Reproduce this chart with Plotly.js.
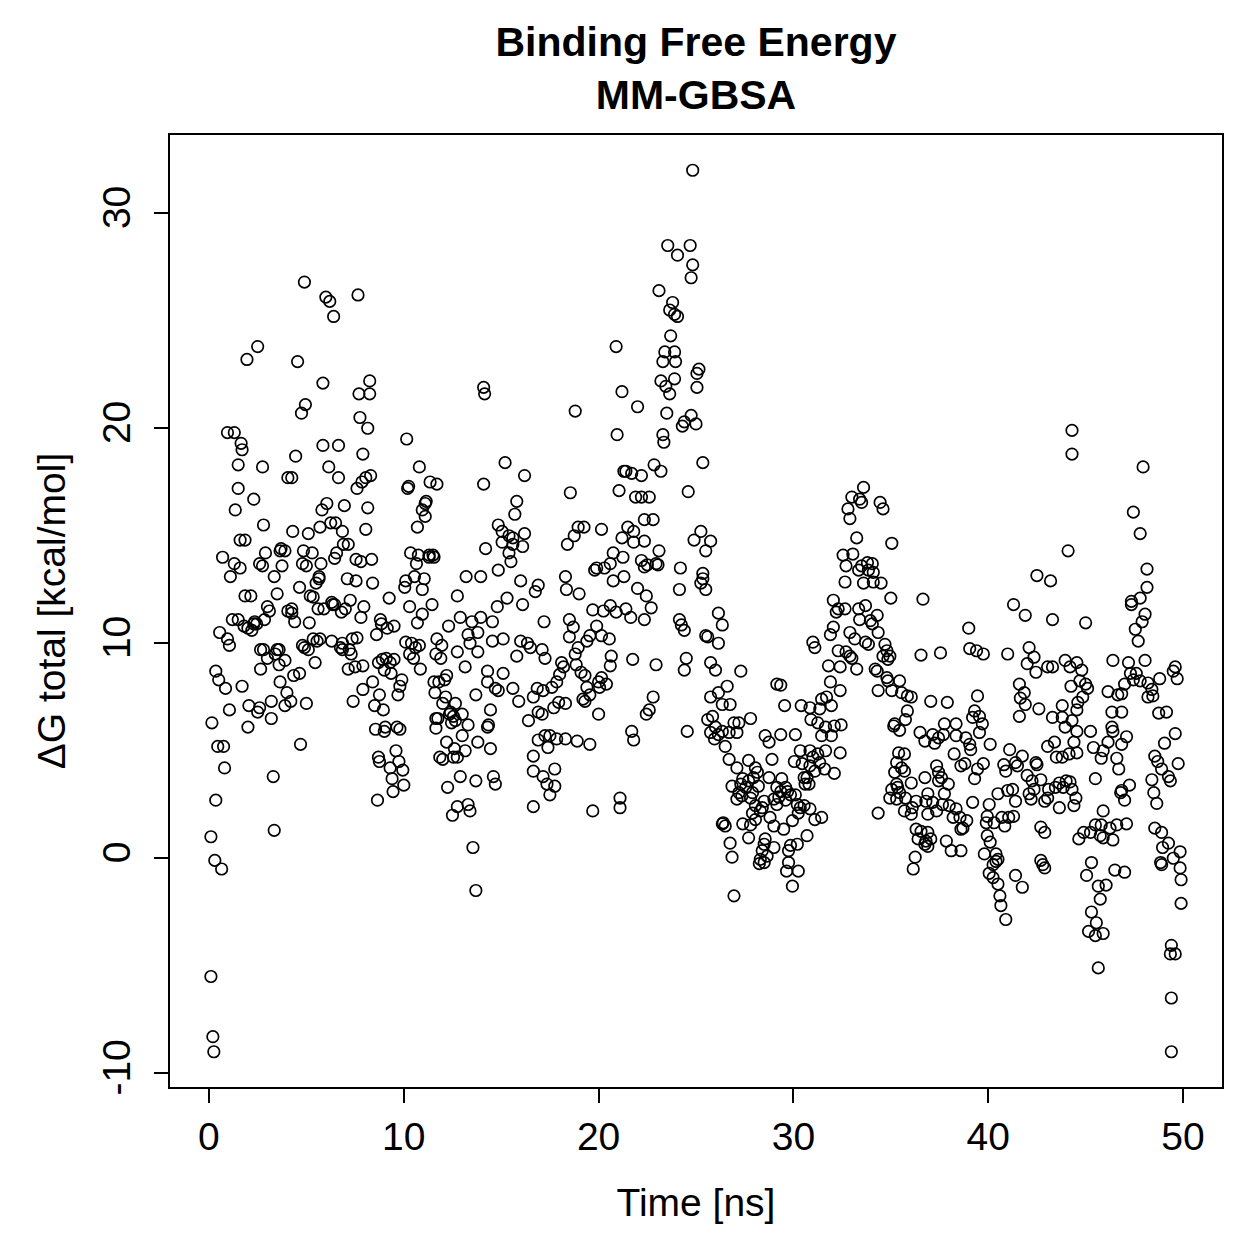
<!DOCTYPE html>
<html>
<head>
<meta charset="utf-8">
<script src="https://cdn.plot.ly/plotly-3.0.1.min.js"></script>
<style>
  html, body { margin: 0; padding: 0; background: #fff; }
  #chart { width: 1259px; height: 1259px; }
</style>
</head>
<body>
<div id="chart"></div>
<script>
// MM-GBSA binding free energy per frame: [time (ns), ΔG total (kcal/mol)]
const pts_00_13 = [
  [0.1,-5.5],[0.2,-8.3],[0.25,-9.0],[0.1,1.0],[0.3,-0.1],[0.65,-0.5],[0.35,2.7],[0.15,6.3],[0.35,8.7],[0.5,8.3],
  [0.45,5.2],[0.75,5.2],[0.8,4.2],[0.85,7.9],[0.55,10.5],[0.7,14.0],[0.95,10.2],[1.05,9.9],[0.95,19.8],[1.05,6.9],
  [1.1,13.1],[1.2,11.1],[1.3,13.7],[1.35,16.2],[1.3,19.8],[1.5,17.2],[1.5,18.3],[1.65,19.3],[1.7,19.0],[1.6,14.8],
  [1.5,11.1],[1.7,8.0],[1.85,14.8],[1.85,12.2],[1.95,23.2],[2.05,7.1],[2.0,6.1],[2.15,12.2],[2.2,10.6],[2.3,10.9],
  [2.3,16.7],[2.35,11.0],[1.6,13.5],[1.8,10.8],[2.0,10.7],
  [2.5,23.8],[2.5,6.8],[2.45,10.9],[2.6,7.0],[2.65,9.7],[2.75,18.2],[2.75,13.6],[2.8,9.7],[2.9,14.2],[2.8,15.5],
  [2.85,11.1],[3.0,11.7],[3.1,11.5],[3.2,7.3],[3.2,6.5],[3.3,3.8],[3.35,1.3],[3.4,9.5],[3.5,12.3],[3.5,9.7],
  [3.6,9.7],[3.6,9.0],[3.65,14.3],[3.7,14.4],[3.75,13.6],[3.9,14.3],[3.9,9.2],[3.9,7.1],[2.6,13.7],[3.0,9.3],
  [3.35,13.1],[2.65,8.8],[3.65,8.2],
  [4.05,11.5],[4.05,17.7],[4.25,17.7],[4.25,11.4],[4.3,15.2],[4.2,7.3],[4.25,11.6],[4.4,11.0],[4.35,8.5],[4.45,18.7],
  [4.55,23.1],[4.65,12.6],[4.65,8.6],[4.7,5.3],[4.75,20.7],[4.8,13.7],[4.85,14.3],[4.9,26.8],[4.9,9.8],[4.95,21.1],
  [5.0,7.2],[5.0,13.6],[5.1,9.7],[5.1,15.1],[5.2,12.2],[5.3,14.2],[5.35,10.2],[5.45,9.1],[5.5,12.8],[5.65,13.1],
  [5.65,13.0],[5.6,11.6],[5.7,10.2],[5.7,15.4],[5.75,13.7],[5.8,16.2],[5.85,19.2],[5.85,22.1],[5.9,11.6],[6.0,26.1],
  [5.35,12.15],[6.3,11.9],[6.8,11.45],[5.15,10.95],[7.8,11.2],[4.8,9.9],[5.55,10.1],[6.85,10.0],[7.6,10.25],[7.15,8.8],
  [7.9,8.95],[4.0,7.7],[7.9,7.85],[8.75,7.6],[7.55,12.9],[6.45,13.95],[7.55,13.9],
  [6.05,16.5],[6.15,18.2],[6.2,25.9],[6.25,15.6],[6.3,10.1],[6.35,11.8],[6.4,25.2],[6.45,11.8],[6.5,15.6],[6.55,14.2],
  [6.65,19.2],[6.65,17.7],[6.75,9.8],[6.85,9.7],[6.85,15.2],[6.9,14.6],[6.95,16.4],[7.0,11.6],[7.1,13.0],[7.15,14.6],
  [7.2,9.7],[7.3,9.5],[7.25,12.0],[7.35,10.2],[7.4,7.3],[7.5,8.9],[7.6,17.2],[7.65,26.2],[7.7,21.6],[7.75,20.5],
  [7.8,13.8],[7.85,17.5],[7.9,18.8],[7.95,11.7],
  [8.05,15.3],[8.05,17.7],[8.15,16.3],[8.15,20.0],[8.25,22.2],[8.3,17.8],[8.25,21.6],[8.35,13.9],[8.4,12.8],[8.4,8.2],
  [8.5,7.1],[8.55,6.0],[8.6,10.4],[8.65,2.7],[8.7,9.1],[8.7,4.7],[8.75,4.5],[8.8,11.1],[8.85,10.9],[8.95,6.9],
  [9.0,5.9],[9.05,6.1],[9.1,9.3],[9.15,10.7],[9.25,12.1],[9.3,9.1],[9.4,3.7],[9.45,3.1],[9.5,10.8],[9.6,5.0],
  [9.65,6.1],[9.7,7.6],[9.75,4.5],[9.8,8.0],[9.8,6.0],[9.95,4.1],[10.0,3.4],[9.9,8.3],
  [8.9,9.25],[9.0,8.75],[9.35,8.6],[9.5,9.25],[9.3,4.2],
  [10.05,12.6],[10.1,12.9],[10.15,19.5],[10.2,17.2],[10.25,17.3],[10.3,9.5],[10.35,14.2],[10.4,10.0],[10.5,9.3],[10.55,13.1],
  [10.6,9.8],[10.65,13.7],[10.7,15.4],[10.75,14.1],[10.8,18.2],[10.85,8.8],[10.95,16.2],[10.95,12.5],[11.05,13.0],[11.1,16.5],
  [11.15,16.6],[11.3,14.1],[11.3,14.0],[11.35,17.5],[11.45,11.8],[11.5,14.1],[11.55,14.0],[11.55,8.2],[11.6,7.7],[11.65,6.5],
  [11.7,10.2],[11.75,6.5],[11.7,17.4],[11.8,8.2],[11.9,9.3],[11.85,4.7],[11.95,9.9],[12.0,4.6],[12.1,8.3],[12.15,7.5],
  [12.2,5.4],[12.25,3.3],[12.3,10.8],[12.35,6.7],[12.4,6.8],[12.45,6.3],[12.5,2.0],[12.55,6.6],[12.6,5.1],
  [11.1,15.9],[10.3,11.7],[10.95,11.35],[10.7,10.95],[10.1,10.05],[10.8,9.9],[11.65,9.5],[12.2,8.5],[12.0,7.2],[11.65,6.05],
  [12.55,4.7]
];

const pts_13_17 = [
  [14.1,21.9],[14.15,21.6],[15.2,18.4],[16.2,17.8],[14.1,17.4],[15.8,16.6],[15.7,16.0],[14.85,15.5],[15.05,15.2],[15.4,15.0],
  [15.6,14.9],[16.2,15.1],[15.05,14.7],[15.6,14.6],[16.1,14.5],[15.4,14.2],[15.5,13.8],[14.2,14.4],[14.85,13.4],[16.0,12.9],
  [13.2,13.1],[13.95,13.1],[16.9,12.7],[16.75,12.4],[12.75,12.2],[15.3,12.1],[14.8,11.7],[16.1,11.8],[17.2,11.0],[12.9,11.2],
  [13.5,11.0],[13.95,11.2],[14.55,11.0],[13.3,10.4],[13.8,10.5],[13.4,10.0],[13.8,9.6],[14.55,10.1],[15.1,10.2],[16.0,10.1],
  [16.35,10.0],[16.5,9.8],[15.8,9.4],[17.1,9.7],[17.25,9.3],[12.75,9.6],[13.15,8.9],[14.3,8.7],[14.3,8.2],[15.1,8.6],
  [14.7,7.9],[14.85,7.8],[15.6,7.9],[15.9,7.3],[13.7,7.6],[16.85,7.9],[17.15,7.8],[16.65,7.5],[12.65,7.2],[13.0,6.7],
  [14.45,6.9],[16.4,6.4],[16.9,6.8],[17.1,6.7],[12.65,6.4],[13.3,6.2],[13.0,5.7],[14.35,6.2],[14.3,6.1],[16.9,5.5],
  [17.25,5.7],[13.8,5.4],[14.45,5.1],[13.15,5.0],[12.75,4.7],[16.65,4.75],[16.65,4.05],[12.9,3.8],[13.7,3.6],[14.6,3.8],
  [14.7,3.45],[17.15,3.8],[17.35,3.45],[12.75,2.4],[13.3,2.5],[13.4,2.2],[16.65,2.4],[13.55,0.5],[13.7,-1.5]
];

const pts_17_22 = [
  [20.9,23.8],[21.2,21.7],[18.8,20.8],[20.95,19.7],[21.4,18.0],[21.3,18.0],[18.55,17.0],[21.05,17.1],[21.9,16.8],[18.95,15.4],
  [19.25,15.4],[18.75,15.0],[18.4,14.6],[20.15,15.3],[21.5,15.4],[21.8,15.2],[21.2,14.9],[21.8,14.7],[20.75,14.2],[21.25,14.0],
  [20.6,13.7],[19.9,13.5],[19.8,13.4],[20.3,13.5],[18.3,13.1],[18.35,12.5],[19.0,12.3],[20.75,12.9],[21.3,13.1],[19.7,11.55],
  [20.25,11.5],[20.6,11.75],[20.9,11.45],[21.4,11.6],[21.65,11.2],[18.5,11.1],[18.7,10.75],[18.5,10.3],[19.9,10.8],[19.55,10.35],
  [19.4,10.1],[20.15,10.35],[20.55,10.2],[18.95,9.8],[18.8,9.5],[20.65,9.4],[20.6,8.95],[21.75,9.25],[18.1,9.1],[18.2,8.9],
  [18.0,8.55],[18.85,9.0],[19.1,8.65],[19.3,8.5],[17.85,8.2],[17.6,7.95],[20.15,8.4],[20.4,8.1],[20.0,8.2],[20.05,7.95],
  [19.4,7.95],[19.55,7.6],[19.2,7.4],[19.3,7.3],[17.95,7.25],[18.3,7.2],[17.7,7.0],[20.0,6.7],[21.7,5.9],[21.8,5.5],
  [17.5,5.7],[17.85,5.55],[18.3,5.55],[18.9,5.45],[19.55,5.3],[17.4,5.15],[17.75,4.15],[17.75,3.35],[17.5,2.95],[19.7,2.2],
  [21.1,2.8],[21.1,2.35]
];

const pts_22_26 = [
  [24.83,32.0],[23.55,28.5],[24.05,28.05],[24.7,28.5],[24.83,27.6],[24.75,27.0],[23.1,26.4],[23.8,25.85],[23.65,25.5],[23.9,25.3],
  [24.05,25.2],[23.7,24.3],[23.4,23.55],[23.9,23.55],[23.3,23.1],[23.95,23.1],[25.15,22.75],[25.05,22.55],[25.05,21.9],[23.2,22.2],
  [23.45,21.95],[23.65,21.6],[23.9,22.3],[22.0,21.0],[23.5,20.7],[24.4,20.3],[24.75,20.6],[25.0,20.2],[24.3,20.1],[23.3,19.7],
  [23.35,19.35],[25.35,18.4],[22.85,18.3],[23.2,18.0],[22.2,17.8],[21.7,17.9],[24.6,17.05],[22.2,16.8],[22.6,16.8],[22.35,15.75],
  [22.8,15.75],[22.35,14.75],[25.25,15.2],[24.9,14.8],[25.75,14.75],[25.5,14.3],[23.1,14.3],[22.2,13.85],[22.5,13.65],[22.95,13.7],
  [23.05,13.65],[22.35,13.55],[24.2,13.5],[25.35,13.25],[25.35,13.0],[25.25,12.8],[22.0,12.55],[22.45,12.2],[22.7,11.65],[22.35,11.1],
  [24.15,12.5],[25.5,12.5],[26.15,11.4],[26.35,10.85],[24.15,11.1],[24.25,10.85],[24.4,10.6],[25.5,10.35],[25.6,10.3],[26.15,10.0],
  [22.95,9.0],[24.5,9.3],[24.4,8.75],[25.75,9.1],[26.0,8.75],[22.8,7.5],[22.6,6.9],[22.45,6.7],[25.75,7.5],[26.15,7.7],
  [26.35,7.15],[25.6,6.45],[25.85,6.6],[26.0,6.1],[25.75,5.85],[26.15,5.75],[25.95,5.55],[24.55,5.9]
];

const pts_26_31 = [
  [27.3,8.7],[29.15,8.1],[29.35,8.05],[26.6,8.0],[26.75,7.15],[29.55,7.1],[30.4,7.1],[27.8,6.5],[26.95,6.3],[27.2,6.3],
  [26.7,5.85],[27.1,5.85],[26.35,5.9],[28.55,5.7],[28.75,5.4],[29.35,5.75],[30.1,5.75],[26.5,5.2],[30.35,5.0],[26.7,4.6],
  [27.7,4.55],[28.9,4.6],[30.05,4.5],[30.45,4.4],[27.1,4.2],[28.05,4.2],[28.15,4.0],[27.95,3.75],[28.75,3.75],[27.4,3.7],
  [27.7,3.6],[27.3,3.45],[27.55,3.3],[30.55,3.75],[30.6,3.45],[26.85,3.35],[28.2,3.35],[29.4,3.7],[29.6,3.3],[29.15,3.3],
  [29.35,3.1],[29.7,3.1],[29.85,2.95],[27.2,3.05],[27.35,2.9],[27.9,3.05],[27.8,2.8],[27.1,2.75],[29.25,2.85],[29.0,2.75],
  [29.15,2.5],[29.6,2.7],[30.1,2.95],[30.2,2.5],[30.35,2.35],[30.55,2.45],[30.25,2.1],[28.5,2.65],[28.4,2.35],[28.05,2.45],
  [28.3,2.2],[27.9,2.1],[28.05,1.8],[27.8,1.55],[26.4,1.65],[26.5,1.5],[26.35,1.6],[27.4,1.6],[28.8,1.9],[29.0,1.5],
  [29.5,1.35],[29.95,1.75],[30.7,1.05],[27.7,0.95],[28.55,0.9],[28.5,0.65],[26.75,0.7],[29.0,0.5],[28.4,0.35],[28.65,0.1],
  [28.3,-0.05],[28.5,-0.2],[28.25,-0.25],[29.85,0.6],[30.2,0.65],[29.75,0.35],[26.85,0.05],[29.75,-0.2],[29.65,-0.6],[30.25,-0.6],
  [29.95,-1.3],[26.95,-1.75]
];

const pts_31_35 = [
  [33.6,17.25],[33.0,16.8],[33.4,16.7],[33.5,16.55],[32.8,16.25],[32.9,15.8],[34.45,16.55],[34.6,16.25],[33.25,14.9],[35.05,14.65],
  [32.55,14.1],[33.05,14.15],[32.7,13.6],[33.5,13.6],[33.8,13.75],[34.05,13.7],[33.35,13.4],[33.85,13.4],[34.1,13.3],[32.65,12.85],
  [33.6,12.8],[34.1,12.85],[34.5,12.8],[35.0,12.1],[32.05,12.0],[32.3,11.6],[32.2,11.45],[32.65,11.6],[33.35,11.6],[33.7,11.75],
  [33.4,11.1],[33.95,11.05],[34.3,11.3],[34.05,10.9],[34.35,10.5],[32.05,10.75],[31.9,10.4],[32.9,10.5],[33.15,10.2],[33.7,10.05],
  [31.0,10.05],[31.1,9.8],[33.85,9.95],[34.7,9.95],[34.8,9.65],[34.95,9.4],[34.6,9.4],[34.85,9.25],[32.3,9.65],[32.7,9.6],
  [32.9,9.4],[33.0,9.3],[31.8,8.95],[32.4,8.9],[33.25,8.8],[34.2,8.8],[34.3,8.7],[34.8,8.4],[34.85,8.25],[31.9,8.2],
  [32.4,7.8],[34.35,7.8],[35.05,7.8],[31.45,7.4],[31.7,7.5],[31.35,6.95],[31.95,7.1],[30.85,7.0],[30.9,6.45],[31.25,6.3],
  [31.65,6.1],[32.1,6.15],[32.45,6.2],[31.45,5.7],[31.95,5.7],[35.15,6.15],[30.85,5.0],[31.25,4.85],[31.65,5.0],[31.0,4.7],
  [31.35,4.45],[31.6,4.15],[30.85,4.3],[31.1,4.05],[30.7,3.75],[30.8,3.45],[32.4,4.9],[32.1,3.95],[35.4,4.9],[35.3,4.45],
  [35.05,3.2],[34.95,2.8],[35.3,2.75],[34.35,2.1],[30.85,2.3],[31.1,1.8],[31.45,1.9]
];

const pts_35_40 = [
  [36.65,12.05],[39.0,10.7],[39.05,9.75],[39.4,9.65],[39.75,9.5],[36.55,9.45],[37.55,9.55],[35.45,8.25],[35.55,7.7],[35.85,7.55],
  [36.05,7.5],[39.45,7.55],[37.05,7.3],[37.9,7.25],[35.85,6.85],[35.75,6.45],[39.3,6.85],[39.2,6.55],[39.55,6.6],[39.7,6.25],
  [39.55,5.85],[35.2,6.25],[35.45,5.95],[37.75,6.25],[38.35,6.25],[36.5,5.85],[36.75,5.45],[37.15,5.75],[37.25,5.35],[37.7,5.75],
  [37.45,5.6],[38.35,5.7],[38.85,5.6],[39.05,5.3],[39.1,5.05],[35.7,4.85],[38.25,4.85],[39.75,4.4],[39.45,4.15],[39.3,3.7],
  [38.8,4.4],[38.6,4.3],[35.55,4.2],[35.7,4.05],[35.2,4.0],[35.3,3.45],[36.75,3.75],[37.35,4.3],[37.45,4.0],[37.6,3.75],
  [37.95,3.45],[37.45,3.6],[36.05,3.5],[35.35,3.3],[35.45,3.05],[35.75,2.8],[36.3,2.65],[36.1,2.35],[35.7,2.2],[36.05,2.05],
  [36.9,3.0],[36.8,2.65],[37.15,2.6],[37.75,3.0],[37.65,2.5],[39.2,2.6],[38.0,2.45],[38.35,2.3],[38.2,1.9],[38.55,1.9],
  [38.9,1.75],[38.6,1.35],[38.7,1.4],[36.9,2.05],[37.35,2.2],[39.9,1.65],[36.3,1.35],[36.55,1.25],[36.9,1.2],[36.4,0.9],
  [36.8,0.8],[37.05,0.9],[36.9,0.55],[36.75,0.65],[37.85,0.8],[38.1,0.35],[38.6,0.35],[36.25,0.05],[36.15,-0.5],[39.8,0.2]
];

const pts_40_44 = [
  [44.3,19.9],[44.3,18.8],[44.1,14.3],[42.5,13.15],[43.2,12.9],[41.3,11.8],[41.9,11.3],[43.3,11.1],[41.0,9.5],[42.1,9.8],
  [42.35,9.35],[42.0,9.05],[42.45,8.65],[43.05,8.9],[43.3,8.9],[43.95,9.2],[41.6,8.1],[41.85,7.7],[41.65,7.45],[41.9,7.15],
  [41.6,6.6],[42.6,6.95],[43.3,6.55],[43.8,7.1],[43.8,6.55],[44.25,8.0],[43.95,6.1],[40.1,5.3],[41.1,5.05],[41.75,4.75],
  [41.4,4.45],[40.8,4.35],[40.9,4.05],[41.5,4.3],[42.45,4.45],[42.5,4.35],[43.05,5.2],[43.4,5.4],[43.5,4.7],[43.8,4.7],
  [44.15,4.85],[42.0,3.85],[42.25,3.6],[42.7,3.65],[42.35,3.2],[43.65,3.5],[44.0,3.6],[43.85,3.3],[43.45,3.3],[43.1,3.2],
  [41.25,3.2],[41.4,2.65],[41.0,3.15],[40.5,3.0],[42.1,3.0],[42.2,2.75],[43.05,2.8],[43.65,2.35],[42.9,2.65],[44.5,2.8],
  [40.05,2.5],[39.95,1.95],[40.3,1.65],[40.7,1.9],[41.05,1.9],[40.85,1.5],[41.3,1.95],[42.7,1.45],[42.9,1.2],[44.65,0.9],
  [39.95,1.05],[40.1,0.75],[40.4,0.2],[40.5,-0.05],[40.4,-0.15],[40.25,-0.3],[40.05,-0.7],[40.25,-0.9],[42.7,-0.1],[42.8,-0.3],
  [42.9,-0.45],[41.4,-0.8],[41.75,-1.35],[40.5,-1.2],[40.6,-1.75],[40.65,-2.2],[40.9,-2.85]
];

const pts_44_50 = [
  [47.95,18.2],[47.45,16.1],[47.8,15.1],[48.15,13.45],[48.15,12.6],[47.8,12.1],[47.35,11.95],[47.35,11.8],[48.05,11.35],[47.9,11.0],
  [47.55,10.65],[47.7,10.1],[45.0,10.95],[46.4,9.2],[47.2,9.1],[47.3,8.6],[47.6,8.6],[47.45,8.3],[47.8,8.25],[48.2,8.15],
  [48.4,7.85],[48.45,7.55],[48.2,7.5],[48.05,9.2],[48.8,8.35],[47.0,8.1],[46.85,7.65],[46.65,7.6],[46.15,7.75],[46.35,6.8],
  [48.75,6.75],[46.85,6.8],[44.55,9.1],[44.8,8.75],[44.7,8.25],[45.0,8.1],[45.1,7.9],[44.85,7.5],[44.6,7.25],[44.55,6.9],
  [44.2,8.9],[44.3,6.4],[45.25,5.9],[46.35,6.1],[46.4,5.9],[46.15,5.4],[45.9,5.0],[45.8,4.65],[47.1,5.65],[46.85,5.3],
  [46.6,4.65],[46.7,4.15],[45.4,5.15],[44.55,5.9],[44.4,5.4],[44.55,4.9],[48.55,4.75],[48.7,4.5],[48.9,4.15],[48.4,3.65],
  [48.5,3.05],[48.65,2.55],[45.5,3.7],[44.2,3.55],[44.3,3.2],[44.4,2.45],[46.85,3.15],[47.0,2.7],[47.25,3.4],[46.8,3.05],
  [45.9,2.2],[48.55,1.4],[48.9,1.2],[46.6,1.55],[46.25,1.4],[45.8,1.55],[45.5,1.55],[45.25,1.2],[44.9,1.2],[45.75,1.05],
  [45.9,0.95],[46.4,0.85],[47.1,1.6],[48.9,-0.3],[45.3,-0.2],[45.05,-0.8],[46.5,-0.55],[47.0,-0.65],[46.05,-1.25],[45.65,-1.3],
  [45.75,-1.9],[45.3,-2.5],[45.55,-3.0],[45.15,-3.4],[45.5,-3.6],[45.9,-3.5],[45.65,-5.1],
  [49.6,8.9],[49.5,8.7],[49.7,8.35],[49.15,6.8],[49.6,5.8],[49.05,5.35],[49.75,4.4],[49.25,3.8],[49.35,3.6],[48.95,0.5],
  [49.25,0.7],[49.85,0.3],[48.85,-0.2],[49.5,0.0],[49.85,-0.45],[49.9,-1.0],[49.9,-2.1],[49.4,-4.05],[49.35,-4.45],[49.6,-4.45],
  [49.4,-6.5],[49.4,-9.0]
];

const xTicks = [0, 10, 20, 30, 40, 50];
const yTicks = [-10, 0, 10, 20, 30];

const frames = [].concat(pts_00_13, pts_13_17, pts_17_22, pts_22_26, pts_26_31,
                         pts_31_35, pts_35_40, pts_40_44, pts_44_50);
const timeNs = frames.map(p => p[0]);
const deltaG = frames.map(p => p[1]);

const FONT = 'Liberation Sans, Arial, Helvetica, sans-serif';

const trace = {
  type: 'scatter',
  mode: 'markers',
  x: timeNs,
  y: deltaG,
  marker: { symbol: 'circle-open', size: 11.5, color: '#000', line: { width: 1.7 } },
  hoverinfo: 'skip'
};

const axisCommon = {
  showgrid: false,
  zeroline: false,
  showline: true,
  mirror: true,
  linecolor: '#000',
  linewidth: 2,
  ticks: 'outside',
  ticklen: 14,
  tickwidth: 2,
  tickcolor: '#000',
  tickfont: { family: FONT, size: 39, color: '#000' }
};

const layout = {
  width: 1259,
  height: 1259,
  paper_bgcolor: '#fff',
  plot_bgcolor: '#fff',
  showlegend: false,
  margin: { l: 170, r: 37, t: 135, b: 172, pad: 0 },
  font: { family: FONT, color: '#000' },
  title: {
    text: '<b>Binding Free Energy</b><br><b>MM-GBSA</b>',
    font: { family: FONT, size: 41, color: '#000' },
    x: 0.5, xref: 'paper', xanchor: 'center',
    y: 1 - 56 / 1259, yref: 'container', yanchor: 'top'
  },
  xaxis: Object.assign({}, axisCommon, {
    range: [-2, 52],
    tickmode: 'array',
    tickvals: xTicks,
    ticktext: xTicks.map(String),
    ticklabelstandoff: 0,
    title: { text: 'Time [ns]', font: { family: FONT, size: 39, color: '#000' }, standoff: 32 }
  }),
  yaxis: Object.assign({}, axisCommon, {
    range: [-10.64, 33.64],
    tickmode: 'array',
    tickvals: yTicks,
    ticktext: yTicks.map(String),
    tickangle: -90,
    ticklabelstandoff: 8,
    title: { text: 'ΔG total [kcal/mol]', font: { family: FONT, size: 39, color: '#000' }, standoff: 18 }
  })
};

Plotly.newPlot('chart', [trace], layout, { staticPlot: true, displayModeBar: false });
</script>
</body>
</html>
